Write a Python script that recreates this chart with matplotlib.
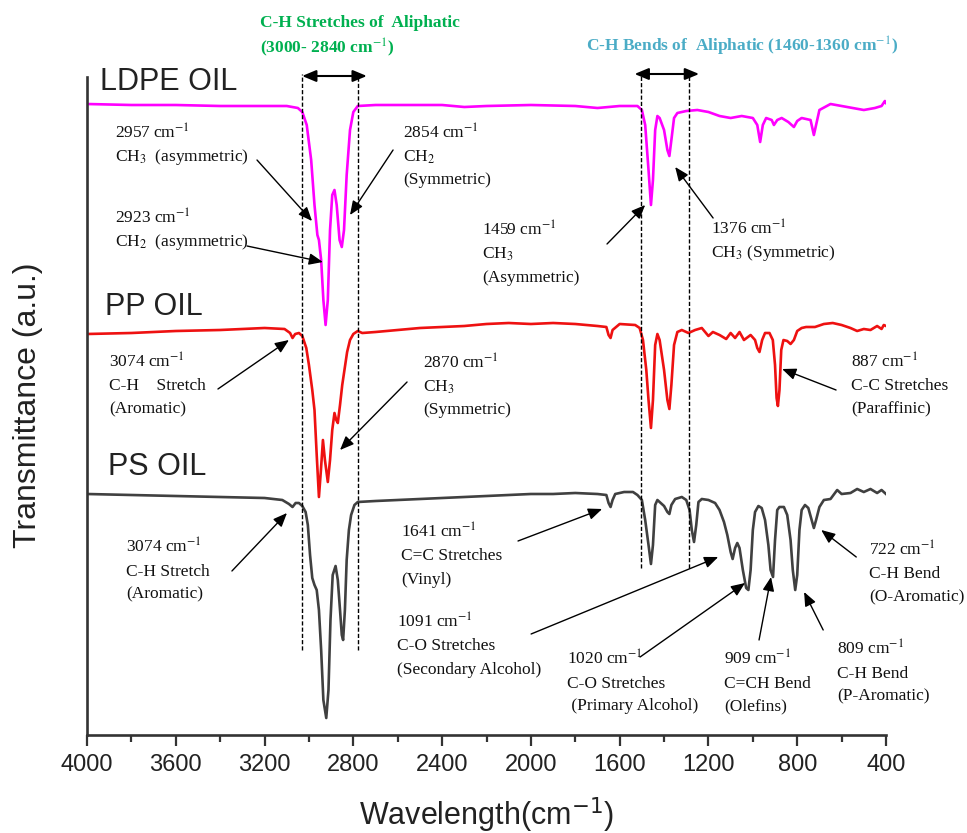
import matplotlib
matplotlib.use('Agg')
import matplotlib.pyplot as plt
from matplotlib.ticker import MultipleLocator

plt.rcParams['mathtext.fontset'] = 'stix'

# ---------------- data (wavenumber cm-1, transmittance a.u., offset spectra) ----------------
ldpe_wn = [4000, 3800, 3600, 3400, 3200, 3100, 3050, 3030, 3010, 2990, 2975, 2962, 2955, 2945,
           2935, 2925, 2915, 2905, 2895, 2885, 2875, 2862, 2852, 2842, 2830, 2815, 2800, 2780,
           2700, 2600, 2400, 2300, 2200, 2000, 1800, 1700, 1600, 1520, 1500, 1485, 1470, 1459,
           1450, 1440, 1430, 1420, 1400, 1385, 1376, 1367, 1355, 1340, 1300, 1250, 1200, 1150,
           1100, 1050, 1000, 980, 967, 955, 940, 915, 905, 890, 870, 840, 815, 800, 780, 740,
           725, 715, 700, 650, 600, 550, 500, 450, 420, 405, 400]
ldpe_t = [63.1, 63.0, 63.0, 62.9, 62.9, 62.9, 62.7, 62.3, 61.0, 57.5, 53.0, 50.0, 49.5, 47.5,
          43.5, 41.0, 43.5, 50.5, 54.0, 54.5, 53.0, 49.5, 48.8, 50.5, 56.0, 60.5, 62.3, 62.9,
          63.0, 63.0, 63.0, 62.8, 62.9, 63.0, 62.9, 62.7, 62.9, 62.9, 62.5, 61.0, 56.5, 53.0,
          55.5, 60.5, 61.9, 61.7, 60.5, 58.5, 57.9, 59.5, 61.7, 62.2, 62.4, 62.5, 62.3, 61.9,
          61.7, 61.9, 61.7, 61.0, 59.3, 61.0, 61.7, 61.5, 61.0, 61.5, 61.7, 61.3, 60.8, 61.4,
          61.7, 61.5, 60.0, 61.0, 62.5, 63.1, 62.9, 62.7, 62.5, 62.7, 62.9, 63.4, 63.2]

pp_wn = [4000, 3800, 3600, 3400, 3200, 3110, 3085, 3074, 3062, 3045, 3030, 3012, 3000, 2985,
         2975, 2965, 2955, 2946, 2937, 2928, 2915, 2905, 2895, 2885, 2877, 2870, 2860, 2850,
         2840, 2828, 2815, 2800, 2780, 2760, 2700, 2600, 2500, 2400, 2300, 2200, 2100, 2000,
         1900, 1800, 1700, 1660, 1650, 1641, 1632, 1600, 1530, 1510, 1495, 1480, 1470, 1459,
         1450, 1440, 1430, 1420, 1400, 1385, 1376, 1367, 1355, 1340, 1320, 1290, 1260, 1230,
         1200, 1180, 1150, 1120, 1100, 1080, 1060, 1040, 1010, 990, 980, 970, 958, 945, 925,
         910, 900, 893, 887, 880, 872, 862, 845, 830, 815, 800, 780, 760, 720, 680, 640, 600,
         560, 530, 500, 470, 440, 420, 410, 400]
pp_t = [40.1, 40.2, 40.4, 40.5, 40.7, 40.6, 40.2, 39.7, 40.1, 40.2, 39.9, 38.7, 37.0, 34.5,
        32.5, 28.0, 23.8, 26.5, 29.5, 27.5, 25.3, 27.5, 30.5, 32.2, 31.5, 31.2, 33.0, 35.0,
        36.5, 38.3, 39.5, 40.1, 40.4, 40.2, 40.3, 40.5, 40.7, 40.8, 40.9, 41.1, 41.2, 41.1,
        41.2, 41.1, 40.9, 40.8, 40.0, 39.7, 40.5, 41.1, 41.0, 40.7, 39.5, 36.5, 33.5, 30.7,
        33.5, 39.0, 40.1, 39.5, 36.5, 33.5, 32.6, 35.0, 39.0, 40.3, 40.5, 40.2, 40.5, 40.7,
        39.9, 40.3, 40.0, 39.6, 40.2, 39.7, 40.3, 39.5, 40.0, 39.5, 38.7, 38.3, 39.5, 40.2, 40.2,
        39.5, 37.0, 33.7, 32.9, 34.5, 38.5, 39.5, 39.4, 39.1, 39.5, 40.4, 40.7, 40.8, 40.8, 41.1,
        41.2, 41.0, 40.7, 40.4, 40.6, 40.5, 40.9, 40.6, 41.0, 40.9]

ps_wn = [4000, 3800, 3600, 3400, 3200, 3120, 3090, 3074, 3060, 3045, 3030, 3015, 3005, 2995,
         2985, 2975, 2965, 2955, 2945, 2935, 2922, 2912, 2903, 2893, 2880, 2870, 2860, 2852,
         2846, 2838, 2830, 2820, 2810, 2795, 2780, 2700, 2600, 2500, 2400, 2300, 2200, 2100,
         2000, 1900, 1800, 1700, 1660, 1650, 1641, 1632, 1620, 1580, 1540, 1520, 1500, 1485,
         1470, 1459, 1450, 1440, 1430, 1420, 1400, 1385, 1376, 1367, 1350, 1320, 1300, 1285,
         1275, 1265, 1255, 1245, 1230, 1200, 1170, 1150, 1130, 1115, 1100, 1091, 1080, 1070,
         1060, 1045, 1030, 1020, 1010, 1000, 990, 975, 960, 945, 930, 920, 909, 900, 890, 880,
         860, 845, 830, 820, 809, 800, 790, 780, 765, 750, 735, 725, 715, 700, 680, 650, 620,
         600, 560, 530, 500, 470, 440, 420, 400]
ps_t = [24.1, 24.0, 23.9, 23.8, 23.7, 23.5, 23.1, 22.8, 23.2, 23.2, 22.9, 22.3, 21.0, 18.0,
        15.7, 15.0, 14.5, 12.5, 8.5, 3.5, 1.7, 4.5, 11.5, 16.0, 16.9, 15.5, 12.5, 10.0,
        9.5, 12.5, 17.5, 20.5, 22.0, 23.0, 23.3, 23.4, 23.5, 23.6, 23.7, 23.8, 23.9, 24.0,
        24.1, 24.1, 24.2, 24.1, 24.0, 23.2, 22.8, 23.5, 24.1, 24.3, 24.3, 24.0, 23.5, 21.5,
        19.0, 17.1, 19.0, 23.0, 23.5, 23.3, 22.9, 22.3, 22.1, 23.0, 23.6, 23.8, 23.5, 22.5,
        20.5, 19.3, 21.0, 23.3, 23.6, 23.5, 23.2, 22.5, 21.3, 20.0, 18.3, 17.6, 18.7, 19.2,
        18.7, 16.5, 14.7, 14.5, 16.5, 20.5, 22.3, 22.9, 22.7, 21.5, 19.0, 16.5, 15.8, 19.5, 22.5, 22.8,
        22.8, 22.0, 19.5, 16.5, 14.5, 16.0, 20.5, 22.5, 23.0, 22.7, 21.5, 20.7, 21.5, 22.8, 23.5, 23.6, 24.5,
        24.1, 24.2, 24.6, 24.3, 24.6, 24.2, 24.5, 24.1]

x_ticks = [4000, 3600, 3200, 2800, 2400, 2000, 1600, 1200, 800, 400]

series_names = ['LDPE OIL', 'PP OIL', 'PS OIL']
series_colors = ['#FF00FF', '#EE1111', '#404040']

# band markers (dashed guides) and region titles
stretch_band = [3031, 2779]
bend_band = [1503, 1287]

# annotations: (lines, text x, first-line centre T, tail (wn, T), tip (wn, T))
annotations = [
    (['2957 cm$^{-1}$', 'CH$_3$  (asymmetric)'], 3874, 60.2, (3234, 57.5), (2986, 51.4)),
    (['2923 cm$^{-1}$', 'CH$_2$  (asymmetric)'], 3874, 51.7, (3279, 48.9), (2937, 47.3)),
    (['2854 cm$^{-1}$', 'CH$_2$', '(Symmetric)'], 2576, 60.2, (2621, 58.5), (2815, 52.0)),
    (['1459 cm$^{-1}$', 'CH$_3$', '(Asymmetric)'], 2220, 50.5, (1657, 49.1), (1485, 53.0)),
    (['1376 cm$^{-1}$', 'CH$_3$ (Symmetric)'], 1188, 50.6, (1179, 51.7), (1350, 56.8)),
    (['3074 cm$^{-1}$', 'C-H    Stretch', '(Aromatic)'], 3901, 37.3, (3410, 34.6), (3090, 39.5)),
    (['2870 cm$^{-1}$', 'CH$_3$', '(Symmetric)'], 2486, 37.2, (2558, 35.3), (2860, 28.5)),
    (['887 cm$^{-1}$', 'C-C Stretches', '(Paraffinic)'], 557, 37.3, (625, 34.5), (868, 36.6)),
    (['3074 cm$^{-1}$', 'C-H Stretch', '(Aromatic)'], 3824, 18.8, (3347, 16.4), (3099, 22.2)),
    (['1641 cm$^{-1}$', 'C=C Stretches', '(Vinyl)'], 2585, 20.3, (2058, 19.4), (1679, 22.6)),
    (['1091 cm$^{-1}$', 'C-O Stretches', '(Secondary Alcohol)'], 2603, 11.3, (1999, 10.1), (1156, 17.8)),
    (['1020 cm$^{-1}$', 'C-O Stretches', ' (Primary Alcohol)'], 1837, 7.6, (1508, 7.8), (1035, 15.2)),
    (['909 cm$^{-1}$', 'C=CH Bend', '(Olefins)'], 1129, 7.6, (972, 9.5), (918, 15.8)),
    (['809 cm$^{-1}$', 'C-H Bend', '(P-Aromatic)'], 620, 8.6, (683, 10.5), (769, 14.3)),
    (['722 cm$^{-1}$', 'C-H Bend', '(O-Aromatic)'], 476, 18.5, (534, 17.8), (692, 20.5)),
]

# ---------------- figure ----------------
W, H = 967, 833
fig = plt.figure(figsize=(W / 100, H / 100), dpi=100)
ax = fig.add_axes([87 / W, 1 - 735 / H, (886 - 87) / W, (735 - 77) / H])

for wn, t, c in zip([ldpe_wn, pp_wn, ps_wn], [ldpe_t, pp_t, ps_t], series_colors):
    ax.plot(wn, t, color=c, lw=1.9, solid_joinstyle='round')

ax.set_xlim(4000, 400)
ax.set_ylim(0, 65.8)
ax.set_xticks(x_ticks)
ax.xaxis.set_minor_locator(MultipleLocator(200))
ax.tick_params(axis='x', which='major', direction='out', length=8, width=1.6,
               labelsize=17, pad=6, colors='#333333')
ax.tick_params(axis='x', which='minor', direction='out', length=5, width=1.6, colors='#333333')
for lab in ax.get_xticklabels():
    lab.set_fontfamily('Liberation Sans')
    lab.set_color('#222222')
ax.set_yticks([])
for s in ['top', 'right']:
    ax.spines[s].set_visible(False)
for s in ['left', 'bottom']:
    ax.spines[s].set_linewidth(1.9)
    ax.spines[s].set_color('#333333')

# dashed band guides
for wn in stretch_band:
    ax.plot([wn, wn], [8.5, 66.1], ls=(0, (3, 1.5)), color='black', lw=1.0, clip_on=False)
for wn in bend_band:
    ax.plot([wn, wn], [16.7, 66.2], ls=(0, (3, 1.5)), color='black', lw=1.0, clip_on=False)

dbl = dict(arrowstyle='<|-|>,head_length=0.6,head_width=0.25', color='black', lw=1.5,
           mutation_scale=14, shrinkA=0, shrinkB=0)
ax.annotate('', xy=(stretch_band[0], 65.9), xytext=(stretch_band[1] - 40, 65.9),
            arrowprops=dbl, annotation_clip=False)
ax.annotate('', xy=(bend_band[0] + 30, 66.1), xytext=(bend_band[1] - 45, 66.1),
            arrowprops=dbl, annotation_clip=False)

serif = 'Liberation Serif'
ax.text(3220, 71.2, 'C-H Stretches of  Aliphatic', color='#00B050', fontsize=12.5,
        fontweight='bold', family=serif, ha='left', va='center', clip_on=False)
ax.text(3220, 68.7, '(3000- 2840 cm$^{-1}$)', color='#00B050', fontsize=12.5,
        fontweight='bold', family=serif, ha='left', va='center', clip_on=False)
ax.text(1751, 68.9, 'C-H Bends of  Aliphatic (1460-1360 cm$^{-1}$)', color='#4BACC6',
        fontsize=12.5, fontweight='bold', family=serif, ha='left', va='center', clip_on=False)

# spectrum names
for name, x, y in zip(series_names, [3941, 3919, 3905], [65.3, 42.8, 26.8]):
    ax.text(x, y, name, fontsize=22, family='Liberation Sans', color='#222222',
            ha='left', va='center', clip_on=False)

arrow = dict(arrowstyle='-|>,head_length=0.6,head_width=0.25', color='black', lw=1.0,
             mutation_scale=14, shrinkA=0, shrinkB=0)
for lines, tx, ty, tail, tip in annotations:
    for i, line in enumerate(lines):
        ax.text(tx, ty - 2.3 * i - 0.55, line, fontsize=12.5, family=serif, color='#111111',
                ha='left', va='baseline', clip_on=False)
    ax.annotate('', xy=tip, xytext=tail, arrowprops=arrow, annotation_clip=False)

fig.text(486 / W, 1 - 825 / H, 'Wavelength(cm$^{-1}$)', fontsize=22, family='Liberation Sans',
         math_fontfamily='dejavusans', ha='center', va='baseline', color='#222222')
fig.text(28 / W, 1 - 405 / H, 'Transmittance (a.u.)', fontsize=23, family='Liberation Sans',
         rotation=90, ha='center', va='center', color='#222222')

fig.savefig('out.png', dpi=100)
